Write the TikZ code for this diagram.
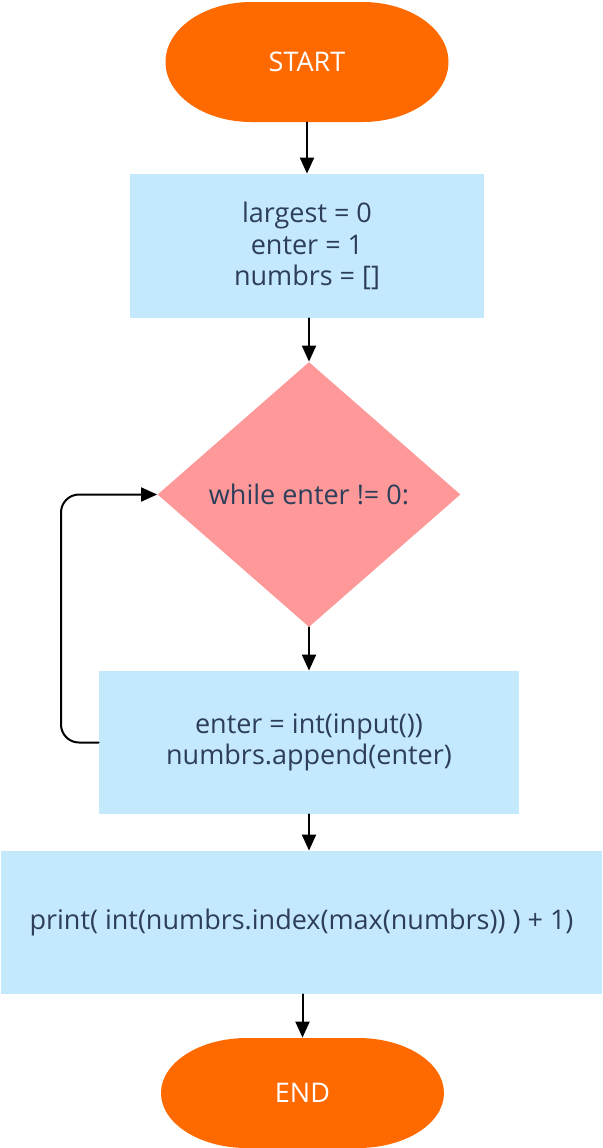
\documentclass[tikz,border=0pt]{standalone}
\usepackage{fontspec}
\setmainfont{Open Sans}
\usetikzlibrary{shapes.geometric,arrows.meta}
\definecolor{orng}{HTML}{FF6A00}
\definecolor{boxc}{HTML}{C5E9FC}
\definecolor{pinkc}{HTML}{FF9999}
\definecolor{txtc}{HTML}{2D3E5A}
\begin{document}
\begin{tikzpicture}[x=0.5pt, y=-0.5pt, line join=round, line cap=round,
	>={Triangle[length=8pt,width=7pt]},
	every node/.style={font=\fontsize{13.5}{15.75}\selectfont, text=txtc, align=center},
	term/.style={minimum width=141.5pt, minimum height=2*#1, inner sep=0pt, text=white,
		font=\fontsize{13.5}{15}\selectfont,
		path picture={\fill[orng] ([xshift=43pt]path picture bounding box.north west)
			-- ([xshift=-43pt]path picture bounding box.north east)
			arc[start angle=90, end angle=-90, x radius=43pt, y radius=#1]
			-- ([xshift=43pt]path picture bounding box.south west)
			arc[start angle=270, end angle=90, x radius=43pt, y radius=#1] -- cycle;}},
	stepbox/.style={fill=boxc, inner sep=0pt},
	cond/.style={diamond, fill=pinkc, inner sep=0pt, minimum width=151.5pt, minimum height=132.5pt, aspect=1.14},
	arr/.style={->, line width=1pt}]
	\useasboundingbox (0,0) rectangle (602,1148);
	% terminals
	\node[term=30pt] (st) at (307,62) {START};
	\node[term=27.5pt] (en) at (302.5,1093) {END};
	% steps
	\node[stepbox, minimum width=177pt, minimum height=72pt] (init) at (307,246) {largest = 0\\enter = 1\\numbrs = []};
	\node[cond] (loop) at (309,494.5) {while enter != 0:};
	\node[stepbox, minimum width=210pt, minimum height=71.5pt] (read) at (309,742.5) {enter = int(input())\\numbrs.append(enter)};
	\node[stepbox, minimum width=300.5pt, minimum height=71.5pt] (out) at (301.5,922.5) {print( int(numbrs.index(max(numbrs)) ) + 1)};
	% connectors
	\coordinate (back) at (61,494.5);
	\draw[arr] (st) -- (init);
	\draw[arr] (loop.north |- init.south) -- (loop);
	\draw[arr] (loop) -- (read);
	\draw[arr] (read) -- (read |- out.north);
	\draw[arr] (en.north |- out.south) -- (en);
	\draw[arr, rounded corners=9pt] (read.west) -| (back) -- (loop.west);
\end{tikzpicture}
\end{document}
